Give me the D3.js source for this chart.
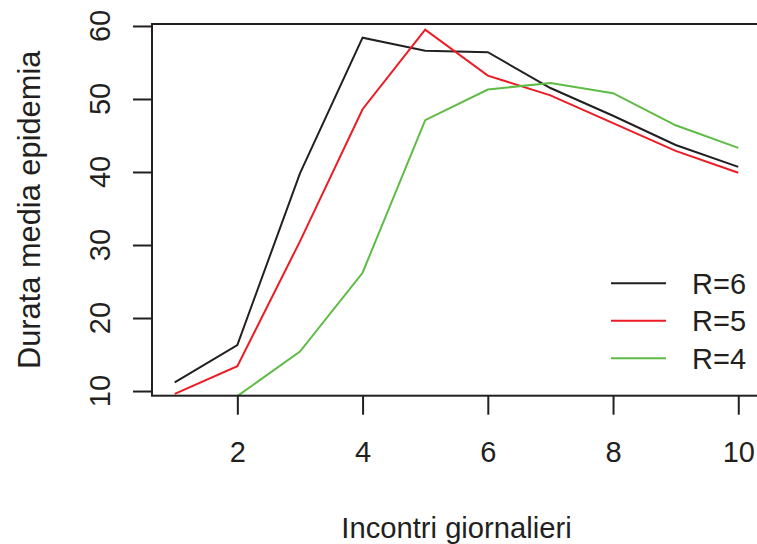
<!DOCTYPE html>
<meta charset="utf-8">
<style type="text/css">
	body { margin: 0; background: #fff; }
	svg { display: block; }
	text { font-family: "Liberation Sans", Arial, sans-serif; fill: #231f20; }
</style>
<body>
<script src="https://d3js.org/d3.v7.min.js"></script>
<script>

	// incontri giornalieri (x)
	var incontri = [1, 2, 3, 4, 5, 6, 7, 8, 9, 10];

	// durata media epidemia per R
	var r6 = [11.2, 16.3, 39.8, 58.4, 56.6, 56.4, 51.5, 47.7, 43.7, 40.7];
	var r5 = [9.6, 13.4, 30.5, 48.6, 59.5, 53.2, 50.5, 46.7, 42.9, 39.9];
	var r4 = [null, 9.3, 15.4, 26.2, 47.1, 51.3, 52.2, 50.8, 46.4, 43.3];

	var serie = ["R=6", "R=5", "R=4"];
	var colori = ["#231f20", "#ed1c24", "#5dbb46"];

	var xTicks = [2, 4, 6, 8, 10];
	var yTicks = [10, 20, 30, 40, 50, 60];

	var width = 757, height = 544;
	var plot = {left: 152, right: 761, top: 24, bottom: 395.7};

	var xScale = d3.scaleLinear()
		.domain([0.637, 10.363])
		.range([plot.left, plot.right]);

	var yScale = d3.scaleLinear()
		.domain([9.36, 60.27])
		.range([plot.bottom, plot.top]);

	var svg = d3.select("body").append("svg")
		.attr("width", width)
		.attr("height", height);

	svg.append("defs").append("clipPath")
		.attr("id", "clip")
		.append("rect")
		.attr("x", plot.left)
		.attr("y", plot.top)
		.attr("width", plot.right - plot.left)
		.attr("height", plot.bottom - plot.top);

	// linee
	var line = d3.line()
		.defined(function(d) { return d.y != null; })
		.x(function(d) { return xScale(d.x); })
		.y(function(d) { return yScale(d.y); });

	var dati = [r6, r5, r4].map(function(vals) {
		return vals.map(function(v, i) { return {x: incontri[i], y: v}; });
	});

	svg.append("g")
		.attr("clip-path", "url(#clip)")
		.selectAll("path")
		.data(dati)
		.enter()
		.append("path")
		.attr("d", line)
		.attr("fill", "none")
		.attr("stroke", function(d, i) { return colori[i]; })
		.attr("stroke-width", 2)
		.attr("stroke-linejoin", "miter");

	// box
	svg.append("rect")
		.attr("x", plot.left)
		.attr("y", plot.top)
		.attr("width", plot.right - plot.left)
		.attr("height", plot.bottom - plot.top)
		.attr("fill", "none")
		.attr("stroke", "#231f20")
		.attr("stroke-width", 2);

	// asse x
	var x_axis = d3.axisBottom(xScale)
		.tickValues(xTicks)
		.tickSize(19)
		.tickPadding(27)
		.tickSizeOuter(0);

	var gx = svg.append("g")
		.attr("transform", "translate(0," + plot.bottom + ")")
		.call(x_axis);
	gx.select(".domain").remove();
	gx.selectAll("line").attr("stroke", "#231f20").attr("stroke-width", 2);
	gx.selectAll("text")
		.attr("font-size", 29)
		.attr("font-family", "Liberation Sans, Arial, sans-serif")
		.attr("fill", "#231f20");

	// asse y (etichette ruotate come in R)
	var y_axis = d3.axisLeft(yScale)
		.tickValues(yTicks)
		.tickSize(19)
		.tickFormat("")
		.tickSizeOuter(0);

	var gy = svg.append("g")
		.attr("transform", "translate(" + plot.left + ",0)")
		.call(y_axis);
	gy.select(".domain").remove();
	gy.selectAll("line").attr("stroke", "#231f20").attr("stroke-width", 2);

	svg.append("g")
		.selectAll("text")
		.data(yTicks)
		.enter()
		.append("text")
		.attr("transform", function(d) { return "translate(110," + yScale(d) + ") rotate(-90)"; })
		.attr("text-anchor", "middle")
		.attr("font-size", 29)
		.text(function(d) { return d; });

	// titoli assi
	svg.append("text")
		.attr("x", (plot.left + plot.right) / 2)
		.attr("y", 538)
		.attr("text-anchor", "middle")
		.attr("font-size", 29.2)
		.text("Incontri giornalieri");

	svg.append("text")
		.attr("transform", "translate(39.5," + (plot.top + plot.bottom) / 2 + ") rotate(-90)")
		.attr("text-anchor", "middle")
		.attr("font-size", 30.8)
		.text("Durata media epidemia");

	// legenda
	var legY = [283.3, 320.7, 358.3];
	var leg = svg.append("g").selectAll("g")
		.data(serie)
		.enter()
		.append("g")
		.attr("transform", function(d, i) { return "translate(0," + legY[i] + ")"; });

	leg.append("line")
		.attr("x1", 611)
		.attr("x2", 666)
		.attr("stroke", function(d, i) { return colori[i]; })
		.attr("stroke-width", 2);

	leg.append("text")
		.attr("x", 692)
		.attr("y", 10.5)
		.attr("font-size", 29)
		.text(function(d) { return d; });

</script>
</body>
